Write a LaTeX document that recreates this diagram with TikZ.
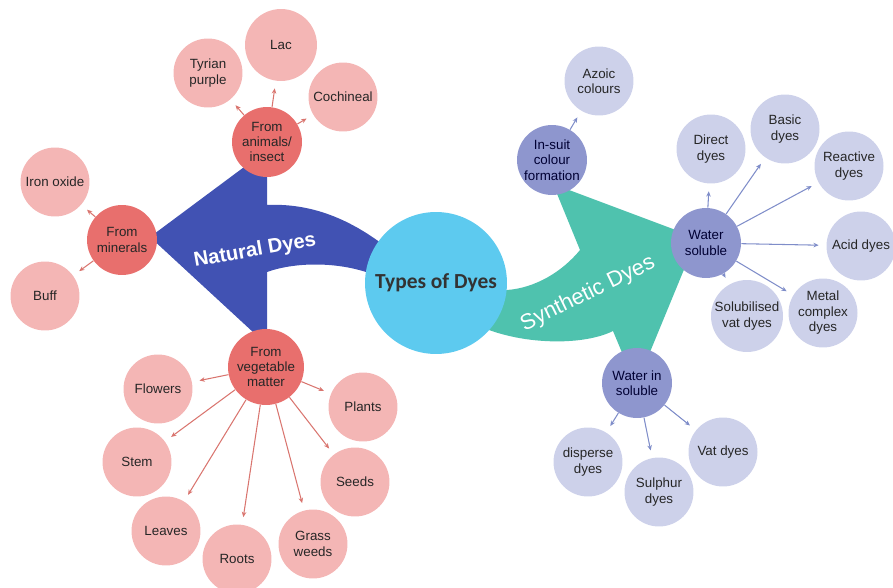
\documentclass[tikz,border=0pt]{standalone}
\usepackage{fontspec}
\setmainfont{Liberation Sans}
\newfontfamily\corefont{Carlito}
\usetikzlibrary{arrows.meta}

\definecolor{natblue}{HTML}{4152B3}
\definecolor{synteal}{HTML}{4FC2AE}
\definecolor{corecyan}{HTML}{5DCAEF}
\definecolor{natred}{HTML}{E86F6D}
\definecolor{natpink}{HTML}{F4B6B5}
\definecolor{synviolet}{HTML}{8E96CE}
\definecolor{synlilac}{HTML}{CDD1EA}
\definecolor{arrowred}{HTML}{D9756F}
\definecolor{arrowblue}{HTML}{7F8DC9}

\begin{document}
\begin{tikzpicture}[
    x=0.02cm, y=-0.02cm,
    >=Stealth,
    % --- Bubble styles ---
    bubble/.style={circle, fill=#1, inner sep=0pt, minimum size=1.38cm,
        align=center, font=\fontsize{7.6}{8.8}\selectfont, text=black!85},
    bubble/.default=natpink,
    natparent/.style={bubble=natred, minimum size=1.4cm},
    natchild/.style={bubble=natpink},
    synparent/.style={bubble=synviolet, minimum size=1.4cm, text=black!80!blue},
    synchild/.style={bubble=synlilac},
    corenode/.style={circle, fill=corecyan, minimum size=2.84cm, inner sep=0pt,
        font=\corefont\bfseries\fontsize{12.2}{14}\selectfont, text=black!80},
    % --- Link styles ---
    natlink/.style={-{Stealth[length=3pt, width=2.6pt]}, draw=arrowred,
        line width=0.6pt, shorten >=0.15cm},
    synlink/.style={-{Stealth[length=3pt, width=2.6pt]}, draw=arrowblue,
        line width=0.6pt, shorten >=0.15cm},
    bandlbl/.style={text=white, font=\fontsize{11.5}{13}\selectfont},
]

\useasboundingbox (0,0) rectangle (893,588);

% ---- Big curved arrows ----
\fill[natblue] (150,237) -- (267,150) -- (267,205)
    .. controls (310,203) and (350,218) .. (390,250) -- (400,275) -- (366,272)
    .. controls (335,262) and (295,262) .. (267,272) -- (267,345) -- cycle;

\fill[synteal] (697,238) -- (553,184) -- (580,250)
    .. controls (562,272) and (535,288) .. (507,290) -- (470,290) -- (470,325)
    -- (489,330) .. controls (530,345) and (585,345) .. (613,331)
    -- (636,386) -- cycle;

\node[bandlbl, font=\bfseries\fontsize{11.5}{13}\selectfont, rotate=10] (natlbl) at (255,251) {Natural Dyes};
\node[bandlbl, font=\fontsize{12.5}{14}\selectfont, rotate=26] (synlbl) at (588,294) {Synthetic Dyes};

% ---- Centre ----
\node[corenode] (types) at (436,283) {Types of Dyes};

% ---- Natural side ----
\node[natparent] (animals) at (267,142) {From\\animals/\\insect};
\node[natparent] (minerals) at (122,240) {From\\minerals};
\node[natparent, minimum size=1.52cm] (vegetable) at (266,367) {From\\vegetable\\matter};

\node[natchild] (tyrian) at (208,73) {Tyrian\\purple};
\node[natchild, minimum size=1.44cm] (lac) at (281,45) {Lac};
\node[natchild] (cochineal) at (343,97) {Cochineal};
\node[natchild] (ironoxide) at (55,182) {Iron oxide};
\node[natchild] (buff) at (45,296) {Buff};
\node[natchild] (flowers) at (158,389) {Flowers};
\node[natchild] (stem) at (137,462) {Stem};
\node[natchild] (leaves) at (166,531) {Leaves};
\node[natchild] (roots) at (237,559) {Roots};
\node[natchild] (grass) at (313,544) {Grass\\weeds};
\node[natchild] (seeds) at (355,482) {Seeds};
\node[natchild] (plants) at (363,407) {Plants};

% ---- Synthetic side ----
\node[synparent] (insuit) at (552,160) {In-suit\\colour\\formation};
\node[synparent] (soluble) at (706,243) {Water\\soluble};
\node[synparent] (insoluble) at (637,383) {Water in\\soluble};

\node[synchild] (azoic) at (599,81) {Azoic\\colours};
\node[synchild] (direct) at (711,149) {Direct\\dyes};
\node[synchild] (basic) at (785,129) {Basic\\dyes};
\node[synchild] (reactive) at (849,166) {Reactive\\dyes};
\node[synchild] (acid) at (861,246) {Acid dyes};
\node[synchild, minimum size=1.44cm] (solvat) at (747,316) {Solubilised\\vat dyes};
\node[synchild] (metal) at (823,313) {Metal\\complex\\dyes};
\node[synchild] (disperse) at (588,462) {disperse\\dyes};
\node[synchild] (sulphur) at (659,492) {Sulphur\\dyes};
\node[synchild] (vat) at (723,452) {Vat dyes};

% ---- Links ----
\foreach \from/\to in {animals/tyrian, animals/lac, animals/cochineal,
    minerals/ironoxide, minerals/buff,
    vegetable/flowers, vegetable/stem, vegetable/leaves, vegetable/roots,
    vegetable/grass, vegetable/seeds, vegetable/plants}
    \draw[natlink] (\from) -- (\to);

\foreach \from/\to in {insuit/azoic,
    soluble/direct, soluble/basic, soluble/reactive, soluble/acid,
    soluble/metal, soluble/solvat,
    insoluble/disperse, insoluble/sulphur, insoluble/vat}
    \draw[synlink] (\from) -- (\to);

\end{tikzpicture}
\end{document}
